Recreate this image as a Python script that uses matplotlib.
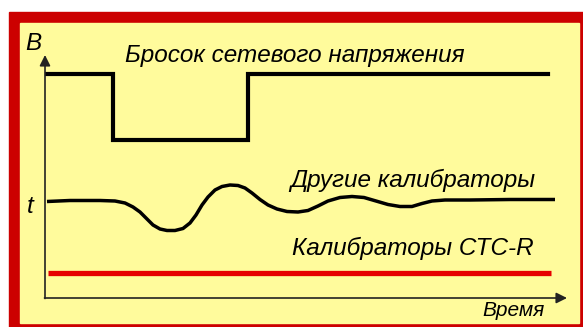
import matplotlib.pyplot as plt
from matplotlib.patches import Rectangle

plt.rcParams['figure.dpi'] = 100
plt.rcParams['font.family'] = ['Liberation Sans', 'DejaVu Sans']

# voltage surge (step), time vs level
surge_t = [2, 68, 68, 203, 203, 503]
surge_v = [224, 224, 158, 158, 224, 224]

# response of other calibrators
other_t = [2, 25, 55, 70, 80, 88, 95, 102, 108, 115, 122, 130, 138, 145, 151, 157,
           163, 170, 177, 185, 193, 200, 207, 215, 223, 232, 242, 253, 263, 273,
           283, 295, 307, 319, 331, 343, 355, 367, 377, 387, 400, 425, 465, 510]
other_v = [96.5, 97.5, 97.5, 97, 95, 91, 86, 79, 73, 69, 67.5, 67.5, 69.5, 75, 83,
           93, 101, 108, 111.5, 113, 112.5, 110, 105, 98.5, 93, 89, 86.5, 86, 87.5,
           92, 97, 100.5, 101.5, 100.5, 97, 93.5, 91.5, 91.5, 94.5, 97, 98, 98,
           98.5, 98.5]

# CTC-R calibrators
ctcr_t = [3, 506]
ctcr_v = [25, 25]

fig = plt.figure(figsize=(5.83, 3.27))
fig.patches.append(Rectangle((9 / 583, 0), 1, 315 / 327, transform=fig.transFigure,
                             color='#cc0000', zorder=-2))
fig.patches.append(Rectangle((20 / 583, 4 / 327), 559 / 583, 300 / 327,
                             transform=fig.transFigure, color='#fffb9c', zorder=-1))

ax = fig.add_axes([0, 0, 1, 1])
ax.set_zorder(1)
ax.set_xlim(-45, 538)
ax.set_ylim(-29, 298)
ax.axis('off')

# axes with arrows
ax.annotate('', xy=(0, 243), xytext=(0, -0.5),
            arrowprops=dict(arrowstyle='-|>', color='#222222', lw=1.2,
                            mutation_scale=16, shrinkA=0, shrinkB=0))
ax.annotate('', xy=(522, 0), xytext=(-0.5, 0),
            arrowprops=dict(arrowstyle='-|>', color='#222222', lw=1.2,
                            mutation_scale=16, shrinkA=0, shrinkB=0))

ax.plot(surge_t, surge_v, color='black', lw=3, solid_joinstyle='miter')
ax.plot(other_t, other_v, color='black', lw=2.5, solid_capstyle='butt',
        solid_joinstyle='round')
ax.plot(ctcr_t, ctcr_v, color='#e60000', lw=3.8, solid_capstyle='butt')

fs = 17.5
ax.text(-20, 248, 'В', fontsize=fs, style='italic')
ax.text(-18, 85, 't', fontsize=fs, style='italic')
ax.text(80, 236, 'Бросок сетевого напряжения', fontsize=fs, style='italic')
ax.text(245, 111, 'Другие калибраторы', fontsize=fs, style='italic')
ax.text(247, 43, 'Калибраторы СТС-R', fontsize=fs, style='italic')
ax.text(437, -18, 'Время', fontsize=15, style='italic')

plt.savefig('out.png', dpi=100)
